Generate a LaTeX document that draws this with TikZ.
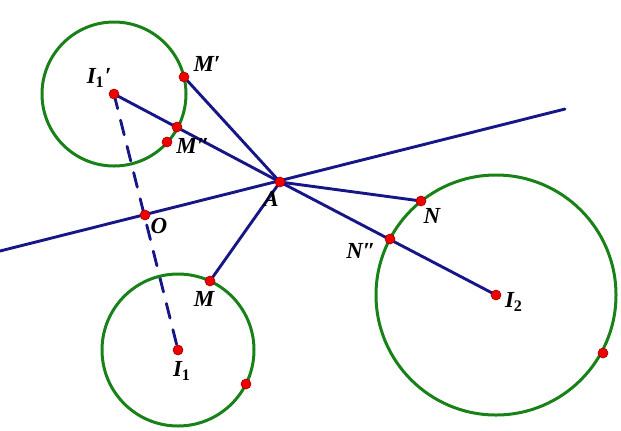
\documentclass[tikz,border=0pt]{standalone}
\usepackage{fontspec}
\setmainfont{Liberation Serif}
\definecolor{segblue}{RGB}{22,22,135}
\definecolor{circgreen}{RGB}{24,130,24}
\definecolor{ptred}{RGB}{240,0,0}
\begin{document}
\begin{tikzpicture}
[x=0.5pt, y=-0.5pt, line width=1.45pt,
seg/.style={draw=segblue, line cap=round},
circ/.style={draw=circgreen, line width=1.5pt},
pt/.style={circle, draw=red!60!black, line width=0.3pt, fill=ptred, inner sep=0pt, minimum size=5pt},
lab/.style={font=\fontsize{11.5}{13}\selectfont\bfseries\itshape, inner sep=0pt}]
\useasboundingbox (0,0) rectangle (621,430);

\coordinate (I1p) at (114,94);
\coordinate (I1) at (178,350);
\coordinate (I2) at (496,295);
\coordinate (A) at (280,182);
\coordinate (O) at (145,215);
\coordinate (M) at (210,281);
\coordinate (Mp) at (184,77);
\coordinate (Mpp) at (177,127);
\coordinate (N) at (421,201);
\coordinate (Npp) at (390,239);
\coordinate (lineL) at (0,251);
\coordinate (lineR) at (565,109);

\draw[seg] (lineL) -- (lineR);
\draw[seg, dash pattern=on 7.5pt off 6pt] (I1p) -- (I1);
\draw[seg] (I1p) -- (A);
\draw[seg] (Mp) -- (A);
\draw[seg] (A) -- (N);
\draw[seg] (A) -- (I2);
\draw[seg] (A) -- (M);

\draw[circ] (I1p) circle (72);
\draw[circ] (I1) circle (76);
\draw[circ] (I2) circle (120);

\node[pt] (dI1p) at (I1p) {};
\node[pt] (dI1) at (I1) {};
\node[pt] (dI2) at (I2) {};
\node[pt] (dA) at (A) {};
\node[pt] (dO) at (O) {};
\node[pt] (dM) at (M) {};
\node[pt] (dMp) at (Mp) {};
\node[pt] (dMpp) at (Mpp) {};
\node[pt] (dMq) at (167,142) {};
\node[pt] (dN) at (N) {};
\node[pt] (dNpp) at (Npp) {};
\node[pt] (dQ1) at (246,384) {};
\node[pt] (dQ2) at (603,353) {};

\node[lab] (tI1p) at (99,78) {I\textsubscript{\upshape 1}′};
\node[lab] (tMp) at (207,64) {M′};
\node[lab] (tMq) at (193,146) {M″};
\node[lab] (tA) at (271,199) {A};
\node[lab] (tO) at (159,226) {O};
\node[lab] (tM) at (204,299) {M};
\node[lab] (tN) at (432,216) {N};
\node[lab] (tNpp) at (361,251) {N″};
\node[lab] (tI2) at (514,302) {I\textsubscript{\upshape 2}};
\node[lab] (tI1) at (182,371) {I\textsubscript{\upshape 1}};
\end{tikzpicture}
\end{document}
